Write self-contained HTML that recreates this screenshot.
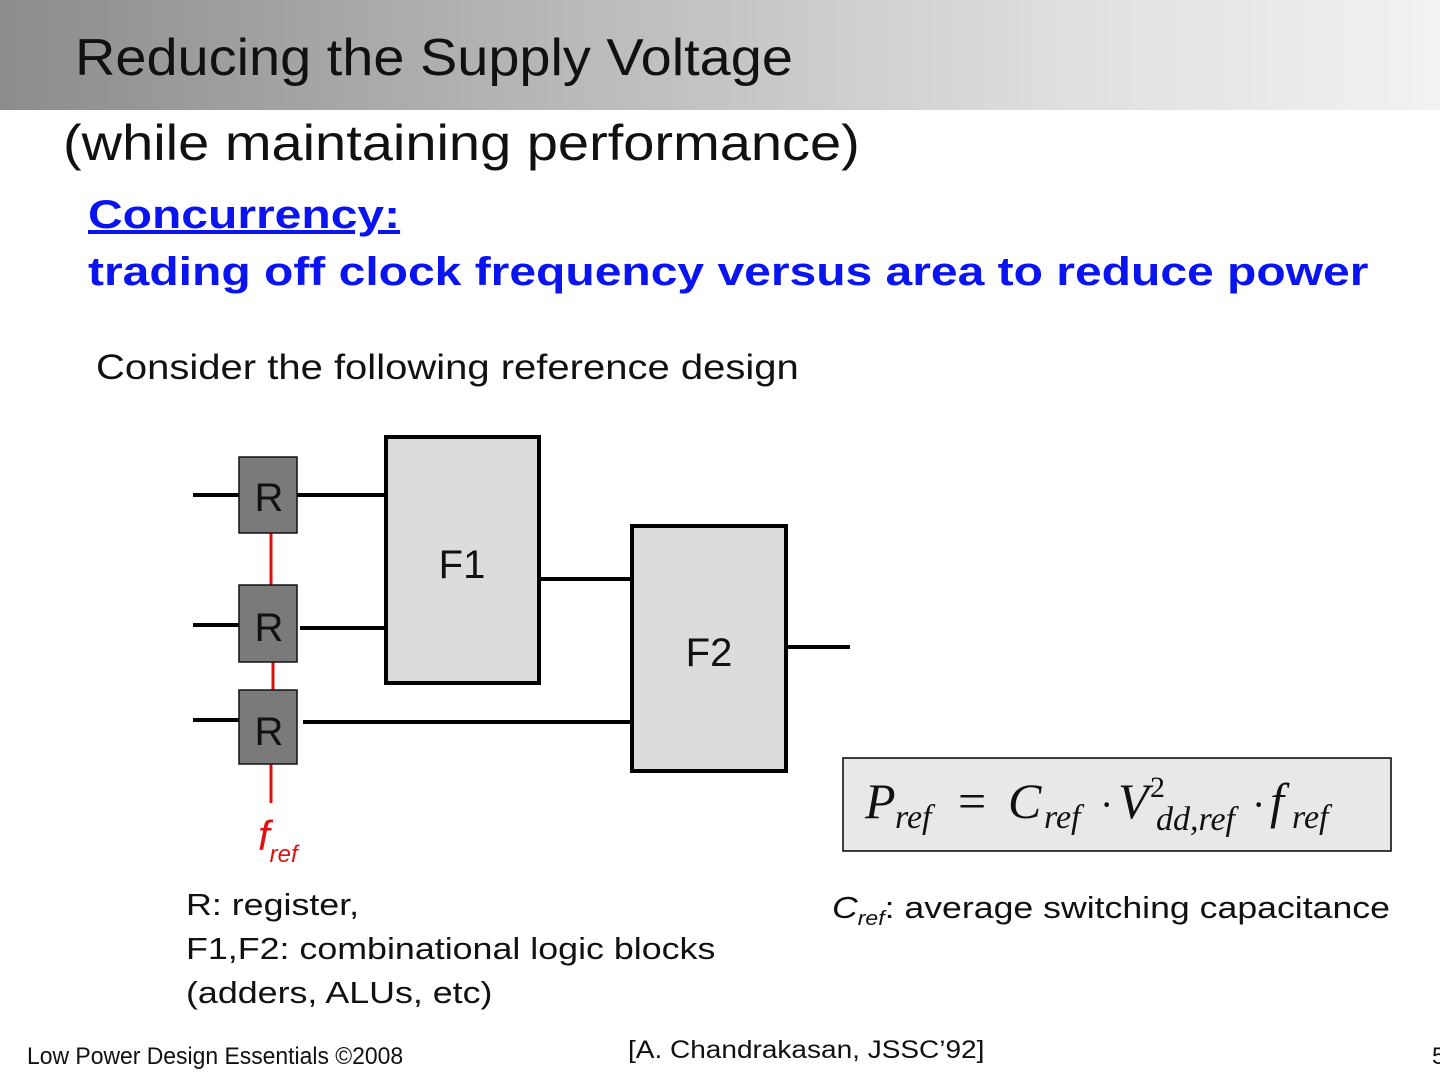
<!DOCTYPE html>
<html><head><meta charset="utf-8"><style>
body{margin:0;width:1440px;height:1080px;position:relative;background:#fff;font-family:"Liberation Sans",sans-serif;overflow:hidden}
.a{position:absolute;white-space:nowrap;transform-origin:left top}
.hdr{position:absolute;left:0;top:0;width:1440px;height:110px;background:linear-gradient(90deg,#8c8c8c 0%,#b4b4b4 35%,#e0e0e0 75%,#f2f2f2 100%)}
.m{position:absolute;white-space:nowrap;font-family:"Liberation Serif",serif;font-style:italic;color:#111;line-height:1}
</style></head><body>
<div class="hdr"></div>
<div class="a" style="left:75px;top:28px;font-size:52px;color:#111;transform:scaleX(1.075)">Reducing the Supply Voltage</div>
<div class="a" style="left:63px;top:114px;font-size:50px;color:#111;transform:scaleX(1.12)">(while maintaining performance)</div>
<div class="a" style="left:88px;top:193px;font-size:40px;font-weight:bold;color:#0a14f0;text-decoration:underline;transform:scaleX(1.2)">Concurrency:</div>
<div class="a" style="left:88px;top:250px;font-size:40px;font-weight:bold;color:#0a14f0;transform:scaleX(1.2)">trading off clock frequency versus area to reduce power</div>
<div class="a" style="left:96px;top:348px;font-size:35px;color:#111;transform:scaleX(1.143)">Consider the following reference design</div>
<svg class="a" style="left:0;top:0" width="1440" height="1080">
<g stroke="#000" stroke-width="4" fill="none">
<line x1="193" y1="495" x2="239" y2="495"/>
<line x1="193" y1="625" x2="239" y2="625"/>
<line x1="193" y1="720" x2="239" y2="720"/>
<line x1="297" y1="495" x2="385" y2="495"/>
<line x1="300" y1="628" x2="388" y2="628"/>
<line x1="303" y1="722" x2="631" y2="722"/>
<line x1="540" y1="579" x2="631" y2="579"/>
<line x1="787" y1="647" x2="850" y2="647"/>
</g>
<g stroke="#e01010" stroke-width="3">
<line x1="271" y1="533" x2="271" y2="585"/>
<line x1="273" y1="662" x2="273" y2="690"/>
<line x1="271" y1="764" x2="271" y2="803"/>
</g>
<rect x="386" y="437" width="153" height="246" fill="#dcdcdc" stroke="#000" stroke-width="4"/>
<rect x="632" y="526" width="154" height="245" fill="#dcdcdc" stroke="#000" stroke-width="4"/>
<g fill="#7a7a7a" stroke="#111" stroke-width="1.5">
<rect x="239" y="457" width="58" height="76"/>
<rect x="239" y="585" width="58" height="77"/>
<rect x="239" y="690" width="58" height="74"/>
</g>
<g font-family="Liberation Sans" font-size="40" fill="#111" text-anchor="middle">
<text x="269" y="511">R</text><text x="269" y="641">R</text><text x="269" y="745">R</text>
<text x="462" y="578">F1</text><text x="709" y="666">F2</text>
</g>
<text x="258" y="850" font-family="Liberation Sans" font-style="italic" font-size="42" fill="#e01010">f<tspan font-size="24" dy="12">ref</tspan></text>
<rect x="843" y="758" width="548" height="93" fill="#e8e8e8" stroke="#000" stroke-width="1.5"/>
<g font-family="Liberation Serif" font-style="italic" fill="#111">
<text x="865" y="818" font-size="50">P</text>
<text x="895" y="828" font-size="34">ref</text>
<text x="958" y="818" font-size="50" font-style="normal">=</text>
<text x="1008" y="818" font-size="50">C</text>
<text x="1044" y="828" font-size="34">ref</text>
<text x="1100" y="818" font-size="40" font-style="normal">·</text>
<text x="1118" y="818" font-size="50">V</text>
<text x="1150" y="797" font-size="30" font-style="normal">2</text>
<text x="1156" y="830" font-size="34">dd,ref</text>
<text x="1252" y="818" font-size="40" font-style="normal">·</text>
<text x="1270" y="818" font-size="50">f</text>
<text x="1292" y="828" font-size="34">ref</text>
</g>
</svg>
<div class="a" style="left:186px;top:883px;font-size:31px;color:#111;line-height:44px;transform:scaleX(1.155)">R: register,<br>F1,F2: combinational logic blocks<br>(adders, ALUs, etc)</div>
<div class="a" style="left:832px;top:890px;font-size:31px;color:#111;transform:scaleX(1.15)"><i>C<sub style="font-size:20px">ref</sub></i>: average switching capacitance</div>
<div class="a" style="left:628px;top:1036px;font-size:25px;color:#111;transform:scaleX(1.12)">[A. Chandrakasan, JSSC’92]</div>
<div class="a" style="left:27px;top:1043px;font-size:24px;color:#111;transform:scaleX(0.955)">Low Power Design Essentials ©2008</div>
<div class="a" style="left:1432px;top:1043px;font-size:24px;color:#111">5</div>
</body></html>
